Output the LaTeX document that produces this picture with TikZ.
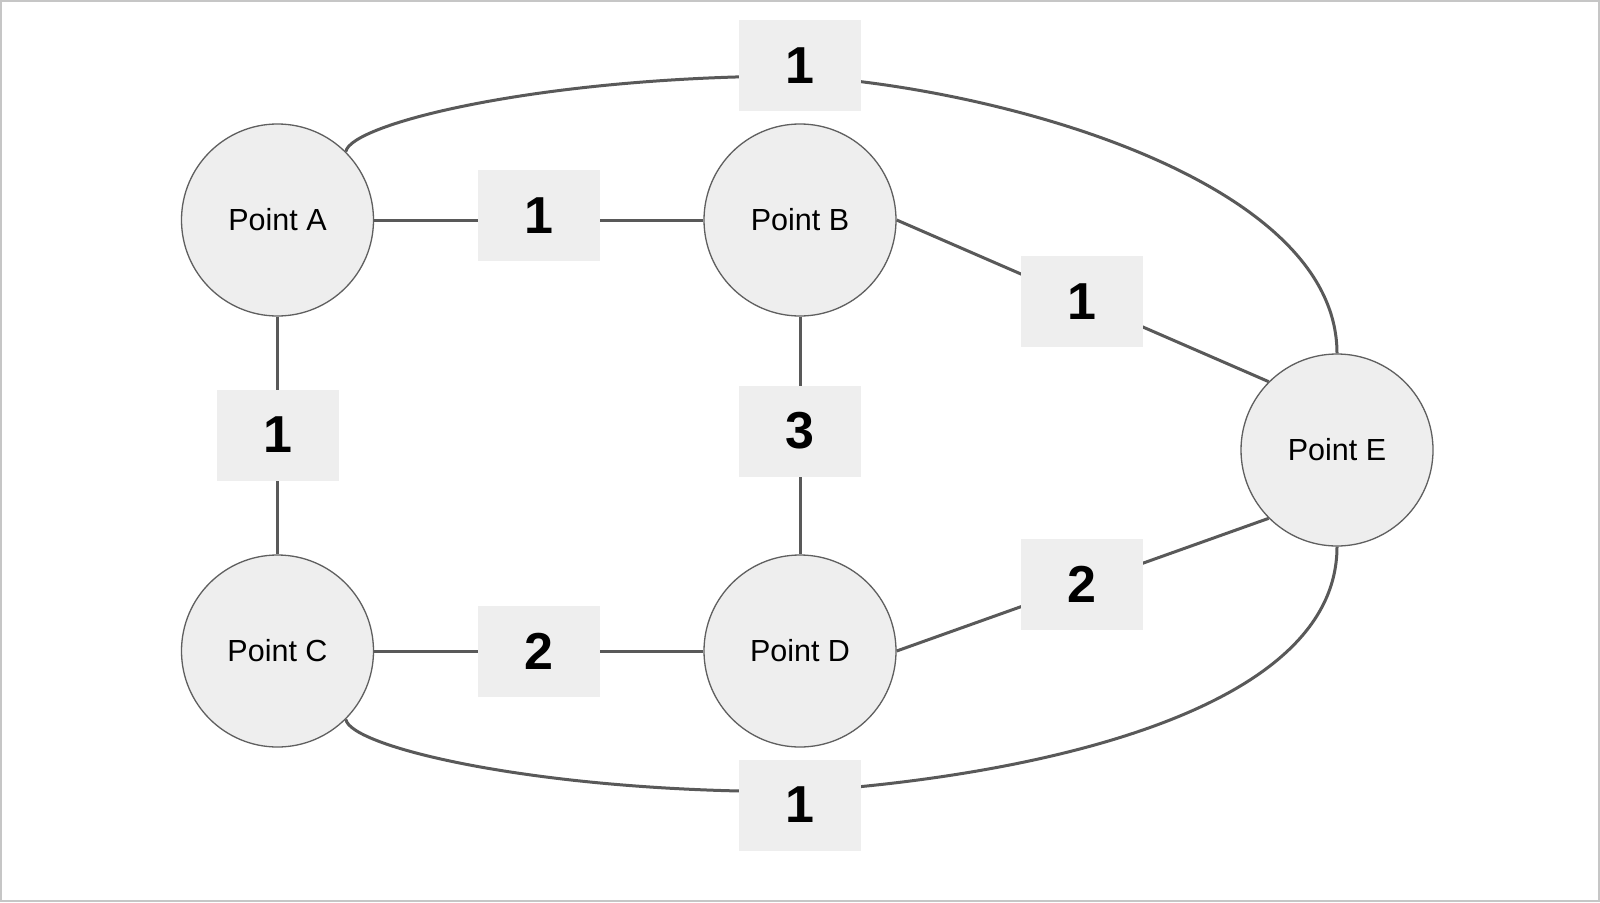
\documentclass[tikz,border=0pt]{standalone}
\usepackage{fontspec}
\setmainfont{Liberation Sans}
\definecolor{nodefill}{RGB}{238,238,238}
\definecolor{nodeline}{RGB}{95,95,95}
\definecolor{edgeline}{RGB}{89,89,89}
\definecolor{framegray}{RGB}{198,198,198}
\begin{document}
\begin{tikzpicture}[x=1pt,y=-1pt,
  pointnode/.style={circle,draw=nodeline,line width=1.3pt,fill=nodefill,
    minimum size=192pt,inner sep=0pt,font=\fontsize{30.5}{36}\selectfont},
  weightbox/.style={rectangle,fill=nodefill,minimum width=122pt,minimum height=91pt,
    inner sep=0pt,font=\fontsize{52}{60}\selectfont\bfseries},
  edge/.style={draw=edgeline,line width=3pt}]
  % canvas and frame
  \fill[white] (0,0) rectangle (1600,902);
  \useasboundingbox (0,0) rectangle (1600,902);
  \draw[framegray,line width=2pt] (1,1) rectangle (1599,901);

  % points
  \node[pointnode] (A) at (277.5,220) {Point A};
  \node[pointnode] (B) at (800,220) {Point B};
  \node[pointnode] (C) at (277.5,651) {Point C};
  \node[pointnode] (D) at (800,651) {Point D};
  \node[pointnode] (E) at (1337,450) {Point E};

  % connections
  \draw[edge] (A.east) -- (B.west);
  \draw[edge] (A.south) -- (C.north);
  \draw[edge] (B.south) -- (D.north);
  \draw[edge] (C.east) -- (D.west);
  \draw[edge] (B.east) -- (E.135);
  \draw[edge] (D.east) -- (E.225);
  \coordinate (topmid) at (800,76);
  \coordinate (botmid) at (800,791.5);
  \draw[edge] (A.45) .. controls (350,124) and (540,76) .. (topmid)
    .. controls (1000,88) and (1337,180) .. (E.north);
  \draw[edge] (C.-45) .. controls (350,747) and (540,793) .. (botmid)
    .. controls (1000,779) and (1337,721) .. (E.south);

  % weights
  \node[weightbox] (wtop) at (800,65.5) {1};
  \node[weightbox] (wab) at (538.5,215.5) {1};
  \node[weightbox] (wac) at (277.5,435) {1};
  \node[weightbox] (wbd) at (800,431) {3};
  \node[weightbox] (wbe) at (1081.5,301.5) {1};
  \node[weightbox] (wcd) at (538.5,651) {2};
  \node[weightbox] (wde) at (1081.5,584.5) {2};
  \node[weightbox] (wbot) at (800,805) {1};
\end{tikzpicture}
\end{document}
